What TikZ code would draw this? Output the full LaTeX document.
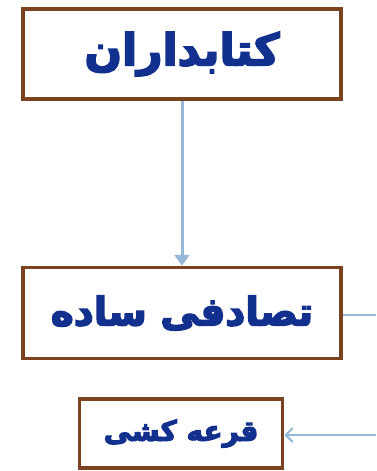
\documentclass[tikz,border=0pt]{standalone}
\usepackage{fontspec}
\newfontfamily\arabicfont[Script=Arabic, FakeBold=4]{DejaVu Sans Bold}
\TeXXeTstate=1
\usetikzlibrary{positioning, arrows.meta}
\definecolor{boxbrown}{HTML}{7B4220}
\definecolor{textblue}{HTML}{12308E}
\definecolor{linkblue}{HTML}{96B8D8}

\begin{document}
\begin{tikzpicture}[
  x=1pt, y=-1pt,
  box/.style={draw=boxbrown, line width=3.5pt, fill=white, inner sep=0pt,
    text=textblue},
  arr/.style={-{Triangle[length=11pt, width=15pt]}, draw=linkblue, line width=3pt},
  link/.style={draw=linkblue, line width=2pt}
]
  \useasboundingbox (0,0) rectangle (376,471);

  \node[box, minimum width=318pt, minimum height=90pt, font=\arabicfont\fontsize{44}{48}\selectfont]
    (lib) at (182,54) {\beginR کتابداران\endR};
  \node[box, minimum width=318pt, minimum height=91pt, font=\arabicfont\fontsize{39}{43}\selectfont,
    below=165pt of lib] (rand) {\beginR تصادفی ساده\endR};
  \node[box, minimum width=203pt, minimum height=69pt, font=\arabicfont\fontsize{28}{32}\selectfont,
    below=37pt of rand, xshift=-1pt] (lot) {\beginR قرعه کشی\endR};

  \coordinate (randend) at (376,315);
  \coordinate (lotstart) at (376,435);

  \draw[arr] (lib) -- (rand);
  \draw[link] (rand.east |- randend) -- (randend);
  \draw[link, -{Straight Barb[length=7pt, width=14pt]}] (lotstart) -- (lot.east |- lotstart);
\end{tikzpicture}
\end{document}
